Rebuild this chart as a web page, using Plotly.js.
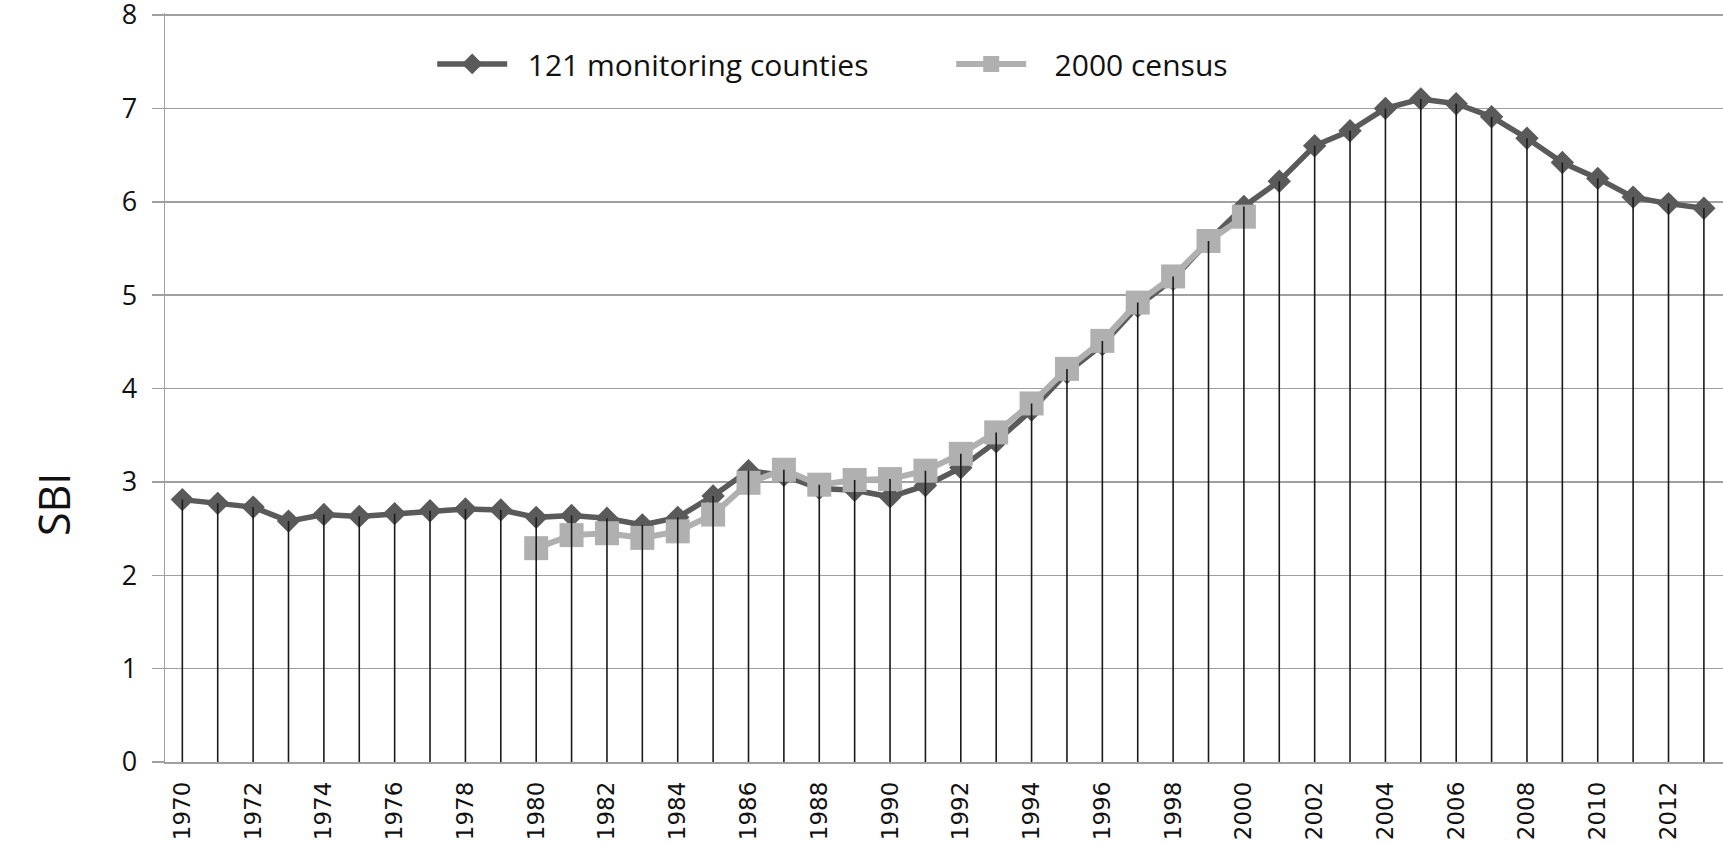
<!DOCTYPE html>
<html>
<head>
<meta charset="utf-8">
<script src="https://cdn.plot.ly/plotly-3.0.1.min.js"></script>
<style>
  html, body { margin: 0; padding: 0; background: #ffffff; }
  #chart { width: 1723px; height: 844px; }
</style>
</head>
<body>
<div id="chart"></div>
<script>
// ---- data ----
var years = [1970,1971,1972,1973,1974,1975,1976,1977,1978,1979,
             1980,1981,1982,1983,1984,1985,1986,1987,1988,1989,
             1990,1991,1992,1993,1994,1995,1996,1997,1998,1999,
             2000,2001,2002,2003,2004,2005,2006,2007,2008,2009,
             2010,2011,2012,2013];

var monitoring = [2.81,2.77,2.73,2.58,2.65,2.63,2.66,2.69,2.71,2.70,
                  2.62,2.64,2.61,2.54,2.62,2.85,3.12,3.07,2.93,2.91,
                  2.84,2.96,3.15,3.43,3.77,4.17,4.47,4.88,5.17,5.58,
                  5.95,6.22,6.60,6.76,7.00,7.10,7.05,6.91,6.68,6.42,
                  6.25,6.05,5.98,5.93];

var censusYears = [1980,1981,1982,1983,1984,1985,1986,1987,1988,1989,
                   1990,1991,1992,1993,1994,1995,1996,1997,1998,1999,2000];
var census = [2.29,2.43,2.45,2.40,2.47,2.65,2.99,3.13,2.97,3.02,
              3.03,3.12,3.30,3.53,3.84,4.21,4.51,4.92,5.20,5.58,5.84];

var seriesNames = ["121 monitoring counties", "2000 census"];
var yTicks = [0,1,2,3,4,5,6,7,8];

// drop line tops: the higher of the two series at each year
var dropTop = years.map(function (yr, i) {
  var v = monitoring[i];
  var j = censusYears.indexOf(yr);
  if (j >= 0 && census[j] > v) v = census[j];
  return v;
});
var zeros = years.map(function () { return 0; });

var traces = [
  {
    x: years, y: monitoring, name: "\u00a0\u00a0" + seriesNames[0],
    type: "scatter", mode: "lines+markers",
    line: { color: "#5a5a5a", width: 5.5 },
    marker: { symbol: "diamond", size: 18, color: "#5a5a5a" }
  },
  {
    x: censusYears, y: census, name: "\u00a0\u00a0\u00a0" + seriesNames[1],
    type: "scatter", mode: "lines+markers",
    line: { color: "#b0b0b0", width: 6 },
    marker: { symbol: "square", size: 24, color: "#b0b0b0" }
  },
  {
    x: years, y: dropTop, type: "scatter", mode: "markers",
    showlegend: false, hoverinfo: "skip",
    marker: { size: 1, opacity: 0 },
    error_y: { type: "data", symmetric: false, array: zeros, arrayminus: dropTop,
               width: 0, thickness: 1.6, color: "#1a1a1a" }
  }
];

var plotH = 749;          // 844 - t - b
var yMax = 8 * plotH / 747;

var layout = {
  width: 1723, height: 844,
  margin: { l: 165, r: 0, t: 13, b: 82 },
  paper_bgcolor: "#ffffff", plot_bgcolor: "#ffffff",
  showlegend: true,
  legend: {
    orientation: "h", x: 0.1715, xanchor: "left", y: 0.932, yanchor: "middle",
    font: { family: "Open Sans", size: 30, color: "#111111" },
    itemwidth: 70, entrywidth: 434, bgcolor: "rgba(0,0,0,0)"
  },
  xaxis: {
    range: [1969.51, 2013.54],
    tickmode: "linear", tick0: 1970, dtick: 2,
    tickangle: -90,
    tickfont: { family: "DejaVu Sans", size: 23, color: "#111111" },
    showgrid: false, zeroline: false,
    showline: true, linecolor: "#a0a0a0", linewidth: 1.5,
    ticks: "", ticklabelstandoff: 9
  },
  yaxis: {
    range: [0, yMax],
    tickmode: "array", tickvals: yTicks, ticktext: yTicks.map(String),
    tickfont: { family: "Open Sans", size: 27, color: "#111111" },
    showgrid: true, gridcolor: "#a0a0a0", gridwidth: 1.5,
    zeroline: false,
    showline: true, linecolor: "#a0a0a0", linewidth: 1.5,
    ticks: "outside", ticklen: 12, tickcolor: "#a0a0a0", tickwidth: 1.5,
    ticklabelstandoff: 9, ticklabeloverflow: "allow"
  },
  annotations: [
    {
      text: "SBI", xref: "paper", yref: "paper",
      x: (53 - 165) / 1558, y: (762 - 505) / plotH,
      xanchor: "center", yanchor: "middle", textangle: -90, showarrow: false,
      font: { family: "Open Sans", size: 43, color: "#111111" }
    }
  ]
};

Plotly.newPlot("chart", traces, layout, { displayModeBar: false, staticPlot: true });
</script>
</body>
</html>
